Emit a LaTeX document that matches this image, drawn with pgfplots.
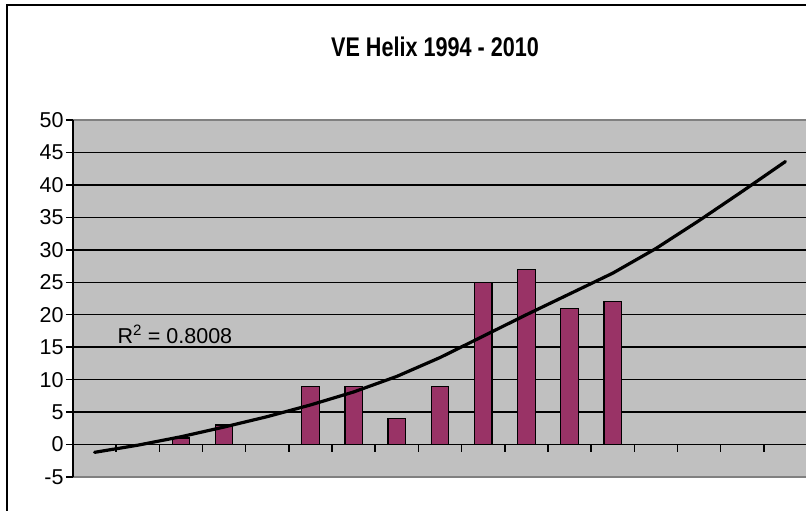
\documentclass[border=0pt]{standalone}
\usepackage{pgfplots}
\pgfplotsset{compat=1.18}
\usepackage{fontspec}
\setmainfont{Liberation Sans}
\newfontfamily\titlefont{Liberation Sans}[FakeStretch=0.8]
\definecolor{plotgray}{HTML}{C0C0C0}
\definecolor{barc}{HTML}{993366}
\definecolor{bordergray}{HTML}{808080}
\begin{document}
\begin{tikzpicture}[x=1pt,y=1pt]
\path[use as bounding box] (0,0) rectangle (806,511);
\draw[black, line width=1.8pt] (7,-2) -- (7,506) -- (810,506);
\node[font=\titlefont\bfseries\fontsize{27}{27}\selectfont] at (435,464) {VE Helix 1994 - 2010};
\begin{axis}[at={(73pt,34pt)}, anchor=south west, scale only axis,
  width=734pt, height=357pt,
  xmin=0.5, xmax=17.5, ymin=-5, ymax=50,
  axis x line*=middle, axis y line*=left,
  axis line style={black, line width=1.5pt},
  xtick={0.5,1.5,...,17.5}, xticklabels={},
  ytick={-5,0,...,50},
  tick align=outside, major tick length=7pt,
  tick style={black, line width=1.5pt},
  ymajorgrids, grid style={black, line width=1.5pt},
  axis background/.style={fill=plotgray},
  yticklabel style={font=\fontsize{21.5}{21.5}\selectfont, xshift=1pt},
  /pgf/number format/assume math mode=true,
  clip=false,
]
\addplot[ybar, bar width=17.5pt, fill=barc, draw=black, line width=1.2pt]
  coordinates {(3,1) (4,3) (6,9) (7,9) (8,4) (9,9) (10,25) (11,27) (12,21) (13,22)};
\addplot[black, line width=3.2pt, line join=round, line cap=round]
  coordinates {(1,-1.2) (2,-0.1) (3,1.2) (4,2.7) (5,4.3) (6,6.1) (7,8.1) (8,10.5) (9,13.4)
  (10,16.7) (11,20.0) (12,23.2) (13,26.4) (14,30.2) (15,34.5) (16,39.0) (17,43.6)};
\draw[bordergray, line width=2pt] (axis cs:0.5,50) -- (axis cs:17.5,50);
\draw[bordergray, line width=2pt] (axis cs:0.5,-5) -- (axis cs:17.5,-5);
\draw[black, line width=1.5pt] (axis cs:0.5,-5) -- (axis cs:0.5,50);
\node[anchor=base west, font=\fontsize{21.5}{21.5}\selectfont] at (axis cs:1.45,15.6) {R\textsuperscript{2} = 0.8008};
\end{axis}
\end{tikzpicture}
\end{document}
